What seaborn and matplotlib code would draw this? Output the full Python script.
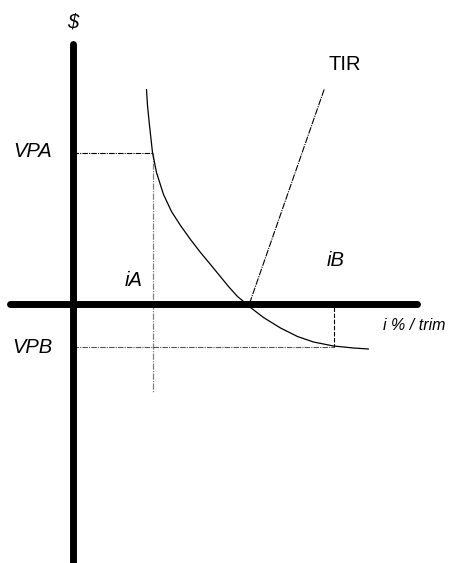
import matplotlib
matplotlib.use("Agg")
import matplotlib.pyplot as plt
import seaborn as sns

# curve VPN(i) (origin at axes crossing, 1 unit ~ 1 px)
curve_i = [74, 75, 77, 80, 84, 91, 99, 108, 118, 128, 138, 147, 156, 165, 171,
           178, 191, 208, 225, 241, 261, 281, 296]
curve_vp = [214, 198, 178, 151, 131, 109, 92, 78, 64, 51, 39, 28, 17, 7, 2,
            -4, -14, -24.5, -33, -38.5, -42.5, -44.5, -45.5]

# key points
i_a, vp_a = 80, 151
i_b, vp_b = 261, -43
tir_i = [177, 252]
tir_vp = [0, 215]

# axes extents
h_axis = [-63, 344]
v_axis = [260, -262]

sns.set_style("white")
plt.rcParams["font.family"] = ["Liberation Sans", "DejaVu Sans"]

fig = plt.figure(figsize=(4.5, 5.63), dpi=100)
ax = fig.add_axes([0, 0, 1, 1])
ax.set_xlim(-72.5, 377.5)
ax.set_ylim(-259.5, 303.5)
ax.axis("off")

# guide lines
ax.plot([0, i_a], [vp_a, vp_a], color="black", lw=0.8, ls=(0, (5, 1, 1, 1)))
ax.plot([i_a, i_a], [vp_a, -88], color="gray", lw=0.9, ls=(0, (5, 1, 1, 1)))
ax.plot([0, i_b], [vp_b, vp_b], color="#555555", lw=0.8, ls=(0, (5, 1, 1, 1)))
ax.plot([i_b, i_b], [-3, vp_b], color="black", lw=0.8, ls=(0, (4, 1.5)))

# thick axes
ax.plot(h_axis, [0, 0], color="black", lw=5, solid_capstyle="round")
ax.plot([0, 0], v_axis, color="black", lw=5, solid_capstyle="round")

# curve and TIR line
sns.lineplot(x=curve_i, y=curve_vp, color="black", lw=0.9, estimator=None, ax=ax)
ax.plot(tir_i, tir_vp, color="black", lw=0.8, ls=(0, (6, 1, 1, 1)))

# labels
kw = dict(ha="center", va="center", fontsize=14.5, style="italic", color="black")
ax.text(0.5, 281.5, "$", **kw)
ax.text(-39.5, 152, "VPA", **kw)
ax.text(-40.5, -44, "VPB", **kw)
ax.text(61.5, 23.5, "iA", **kw)
ax.text(263.5, 42.5, "iB", **kw)
ax.text(272.5, 238.5, "TIR", ha="center", va="center", fontsize=14.5, color="black")
ax.text(341.5, -22.5, "i % / trim", ha="center", va="center", fontsize=11.5,
        style="italic", color="black")

plt.savefig("out.png", dpi=100)
